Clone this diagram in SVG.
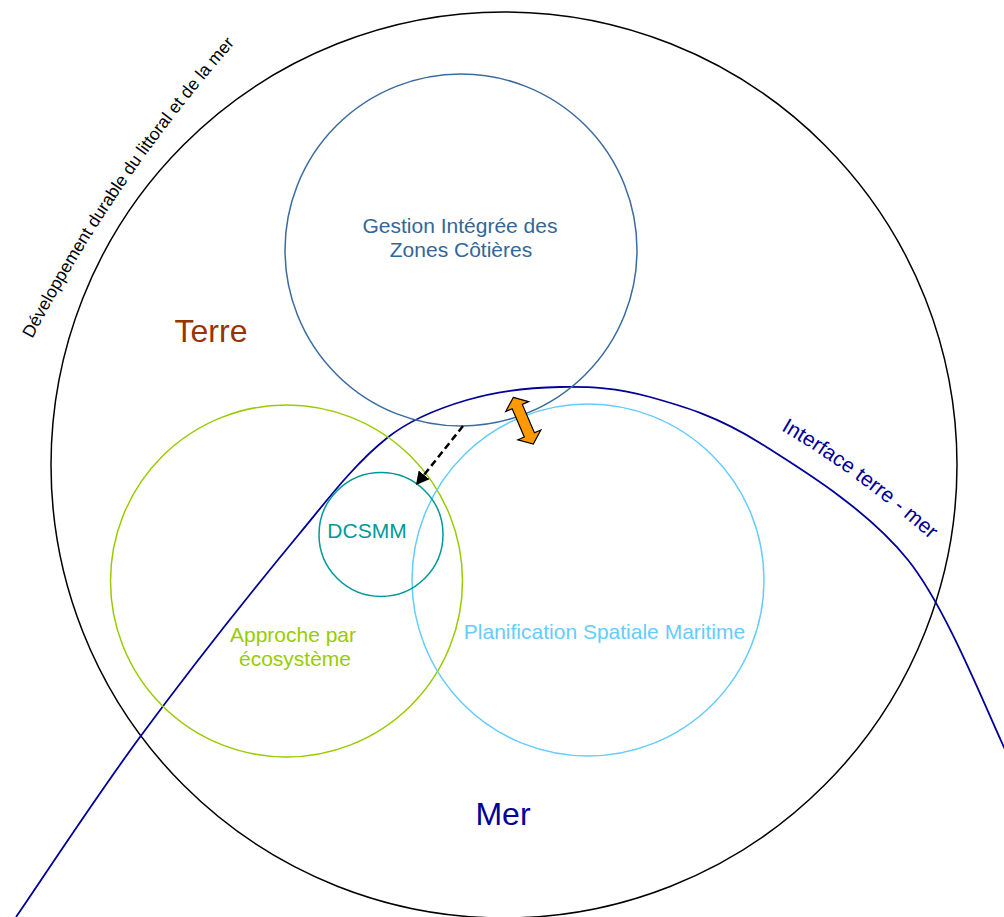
<svg xmlns="http://www.w3.org/2000/svg" xmlns:xlink="http://www.w3.org/1999/xlink" width="1004" height="917" viewBox="0 0 1004 917">
<style>
text { font-family: "Liberation Sans", Arial, Helvetica, sans-serif; }
.ring { fill: none; stroke-width: 1.5; }
.lbl { font-size: 21px; text-anchor: middle; }
.big { font-size: 32px; text-anchor: middle; }
</style>
<defs>
<marker id="ah" markerUnits="userSpaceOnUse" markerWidth="14" markerHeight="14" refX="13" refY="7" orient="auto">
<path d="M0,0 L13,7 L0,14 z" fill="#000"/>
</marker>
<path id="arcDev" d="M30,343 A1500,1500 0 0 1 238,40"/>
<path id="arcIf" d="M779,429 Q855,473 932,541"/>
</defs>
<rect width="1004" height="917" fill="#fff"/>

<g id="developpement">
<circle class="ring" cx="504" cy="465" r="453" stroke="#000"/>
<text font-size="17.5" fill="#000"><textPath xlink:href="#arcDev" href="#arcDev" startOffset="50%" text-anchor="middle">Développement durable du littoral et de la mer</textPath></text>
</g>

<g id="interface">
<path d="M16,917 C36.7,887 96.7,795.6 140,737 C191.3,667.6 245,599.5 300,533 C327.4,499.9 354,464.3 387,438 C409.6,419.9 439.1,408.2 467,400 C496.6,391.3 529.5,387.5 560,387 C590.5,386.5 616.7,387.7 650,397 C683.3,406.3 717,415.8 760,443 C803,470.2 867.3,509.3 908,560 C948.7,610.7 990,720 1010,760" fill="none" stroke="#000099" stroke-width="1.8"/>
<text font-size="21" fill="#000099"><textPath xlink:href="#arcIf" href="#arcIf" startOffset="50%" text-anchor="middle">Interface terre - mer</textPath></text>
</g>

<g id="terre">
<text class="big" x="211" y="342" fill="#993300">Terre</text>
</g>
<g id="mer">
<text class="big" x="503" y="825" fill="#000099">Mer</text>
</g>

<g id="gizc">
<circle class="ring" cx="461" cy="250" r="176" stroke="#3A6B9F"/>
<text class="lbl" x="460" y="233" fill="#336699">Gestion Intégrée des</text>
<text class="lbl" x="461" y="257" fill="#336699">Zones Côtières</text>
</g>

<g id="approche">
<circle class="ring" cx="286.5" cy="581" r="176" stroke="#99CC00"/>
<text class="lbl" x="293" y="642" fill="#99CC00">Approche par</text>
<text class="lbl" x="295" y="666" fill="#99CC00">écosystème</text>
</g>

<g id="psm">
<circle class="ring" cx="588" cy="580" r="176" stroke="#66CCFF"/>
<text class="lbl" x="604.5" y="639" fill="#66CCFF">Planification Spatiale Maritime</text>
</g>

<g id="dcsmm">
<circle class="ring" cx="381" cy="534.5" r="62" stroke="#009999"/>
<text class="lbl" x="367" y="538" fill="#009999">DCSMM</text>
</g>

<g id="connectors">
<line x1="463" y1="426" x2="416" y2="485" stroke="#000" stroke-width="2.5" stroke-dasharray="7,4" marker-end="url(#ah)"/>
<polygon transform="translate(523.3,420.7) rotate(66.8)" points="-25.4,0 -15.4,-12.5 -15.4,-5.5 15.4,-5.5 15.4,-12.5 25.4,0 15.4,12.5 15.4,5.5 -15.4,5.5 -15.4,12.5" fill="#FF9900" stroke="#000" stroke-width="1.2" stroke-linejoin="miter"/>
</g>
</svg>
